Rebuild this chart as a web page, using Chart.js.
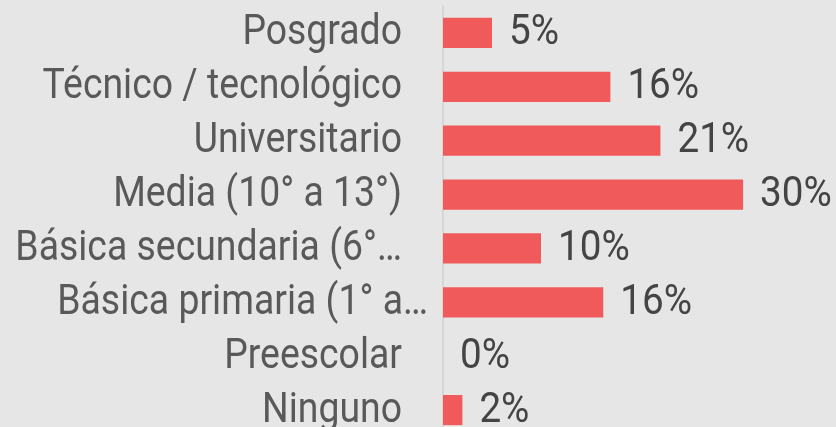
<!DOCTYPE html>
<html>
<head>
<meta charset="utf-8">
<script src="https://cdn.jsdelivr.net/npm/chart.js@4/dist/chart.umd.min.js"></script>
<style>
  html, body { margin: 0; padding: 0; background: #e6e6e6; overflow: hidden; }
  canvas { display: block; }
</style>
</head>
<body>
<canvas id="c" width="836" height="440" style="width:836px;height:440px"></canvas>
<script>
const categories = [
  "Posgrado",
  "Técnico / tecnológico",
  "Universitario",
  "Media (10° a 13°)",
  "Básica secundaria (6°…",
  "Básica primaria (1° a…",
  "Preescolar",
  "Ninguno"
];
const values = [4.8, 16.4, 21.3, 29.4, 9.6, 15.7, 0, 1.9];
const valueLabels = ["5%", "16%", "21%", "30%", "10%", "16%", "0%", "2%"];

const SX = 0.89;

const labelPlugin = {
  id: 'labels',
  afterDatasetsDraw(chart) {
    const ctx = chart.ctx;
    const yScale = chart.scales.y;
    const meta = chart.getDatasetMeta(0);
    ctx.save();
    ctx.textBaseline = 'middle';
    // category labels
    ctx.font = '42px Roboto';
    ctx.fillStyle = '#595959';
    ctx.textAlign = 'right';
    const right = chart.chartArea.left - 41;
    categories.forEach((c, i) => {
      const y = yScale.getPixelForTick(i);
      // the truncated "primaria" label overhangs its right edge in the original
      const shift = c.startsWith('Básica primaria') ? 26 : 0;
      ctx.save();
      ctx.translate(right + shift, y + 1);
      ctx.scale(SX, 1);
      ctx.fillText(c, 0, 0);
      ctx.restore();
    });
    // value labels
    ctx.fillStyle = '#444444';
    ctx.textAlign = 'left';
    meta.data.forEach((bar, i) => {
      ctx.save();
      ctx.translate(bar.x + 17, bar.y + 1);
      ctx.scale(0.92, 1);
      ctx.fillText(valueLabels[i], 0, 0);
      ctx.restore();
    });
    ctx.restore();
  }
};

new Chart(document.getElementById('c'), {
  type: 'bar',
  data: {
    labels: categories,
    datasets: [{
      data: values,
      backgroundColor: '#f05a5a',
      borderWidth: 0,
      barPercentage: 0.56,
      categoryPercentage: 1
    }]
  },
  options: {
    indexAxis: 'y',
    responsive: false,
    animation: false,
    layout: { padding: { top: 6, bottom: 3, left: 0, right: 0 } },
    plugins: { legend: { display: false }, tooltip: { enabled: false } },
    scales: {
      x: {
        display: false,
        min: 0,
        max: 38.5
      },
      y: {
        grid: { display: false, drawTicks: false },
        border: { display: true, color: '#d6d6d6', width: 2 },
        ticks: { display: false },
        afterFit(scale) { scale.width = 443; }
      }
    }
  },
  plugins: [labelPlugin]
});
</script>
</body>
</html>
